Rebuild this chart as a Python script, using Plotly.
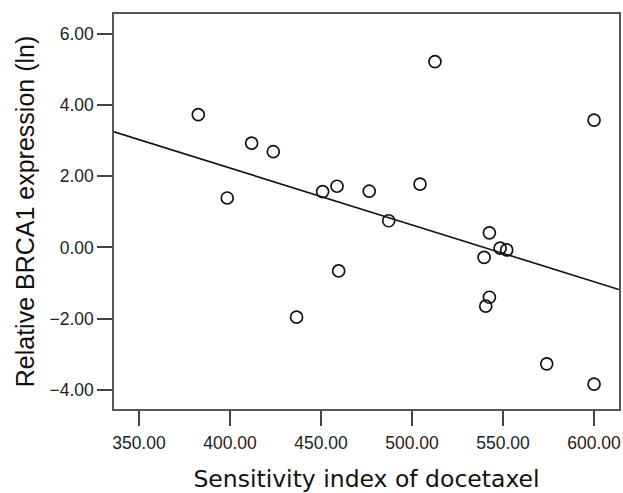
import numpy as np
import plotly.graph_objects as go

# Data
sensitivity_index = [382.6, 398.5, 411.9, 423.8, 436.6, 450.9, 458.8, 459.7, 476.5, 487.2,
                     504.4, 512.6, 539.6, 540.5, 542.5, 542.5, 548.4, 552.0, 574.0, 600.0, 600.0]
brca1_expression = [3.73, 1.39, 2.93, 2.69, -1.96, 1.57, 1.72, -0.66, 1.58, 0.75,
                    1.78, 5.22, -0.28, -1.65, 0.41, -1.40, -0.02, -0.07, -3.27, 3.58, -3.84]

x_range = [336.3, 613.7]
y_range = [-4.54, 6.56]
x_ticks = [350, 400, 450, 500, 550, 600]
y_ticks = [-4, -2, 0, 2, 4, 6]

x_title = "Sensitivity index of docetaxel"
y_title = "Relative BRCA1 expression (ln)"

# Linear fit (least squares) across the full axis range
slope, intercept = np.polyfit(sensitivity_index, brca1_expression, 1)
fit_x = np.array(x_range)
fit_y = slope * fit_x + intercept

fig = go.Figure()
fig.add_trace(go.Scatter(
    x=fit_x, y=fit_y, mode="lines",
    line=dict(color="#111111", width=1.6),
    showlegend=False, hoverinfo="skip",
))
fig.add_trace(go.Scatter(
    x=sensitivity_index, y=brca1_expression, mode="markers",
    marker=dict(symbol="circle-open", size=12, color="#111111", line=dict(width=1.7)),
    showlegend=False,
))

axis_common = dict(
    showgrid=False, zeroline=False, automargin=False,
    showline=True, mirror=True, linecolor="#555555", linewidth=1.5,
    ticks="outside", ticklen=15, tickwidth=1.5, tickcolor="#444444",
    tickformat=".2f",
    tickfont=dict(family="Liberation Sans, Arial, sans-serif", size=17.5, color="#222222"),
)

fig.update_xaxes(
    range=x_range, tickvals=x_ticks, ticklabelstandoff=2, **axis_common,
    title=dict(text=x_title, standoff=20,
               font=dict(family="DejaVu Sans, Verdana, sans-serif", size=23.5, color="#111111")),
)
fig.update_yaxes(
    range=y_range, tickvals=y_ticks, **axis_common,
    title=dict(text=y_title, standoff=8,
               font=dict(family="Liberation Sans, Arial, sans-serif", size=25, color="#111111")),
)

fig.update_layout(
    width=623, height=493,
    margin=dict(l=114, r=4, t=14, b=84),
    paper_bgcolor="white", plot_bgcolor="white",
)

# Remove the browser's default body margin so the figure fills the window exactly
fig.write_html(
    "out.html",
    config={"displayModeBar": False},
    post_script="document.body.style.margin='0px';document.body.style.overflow='hidden';",
)
